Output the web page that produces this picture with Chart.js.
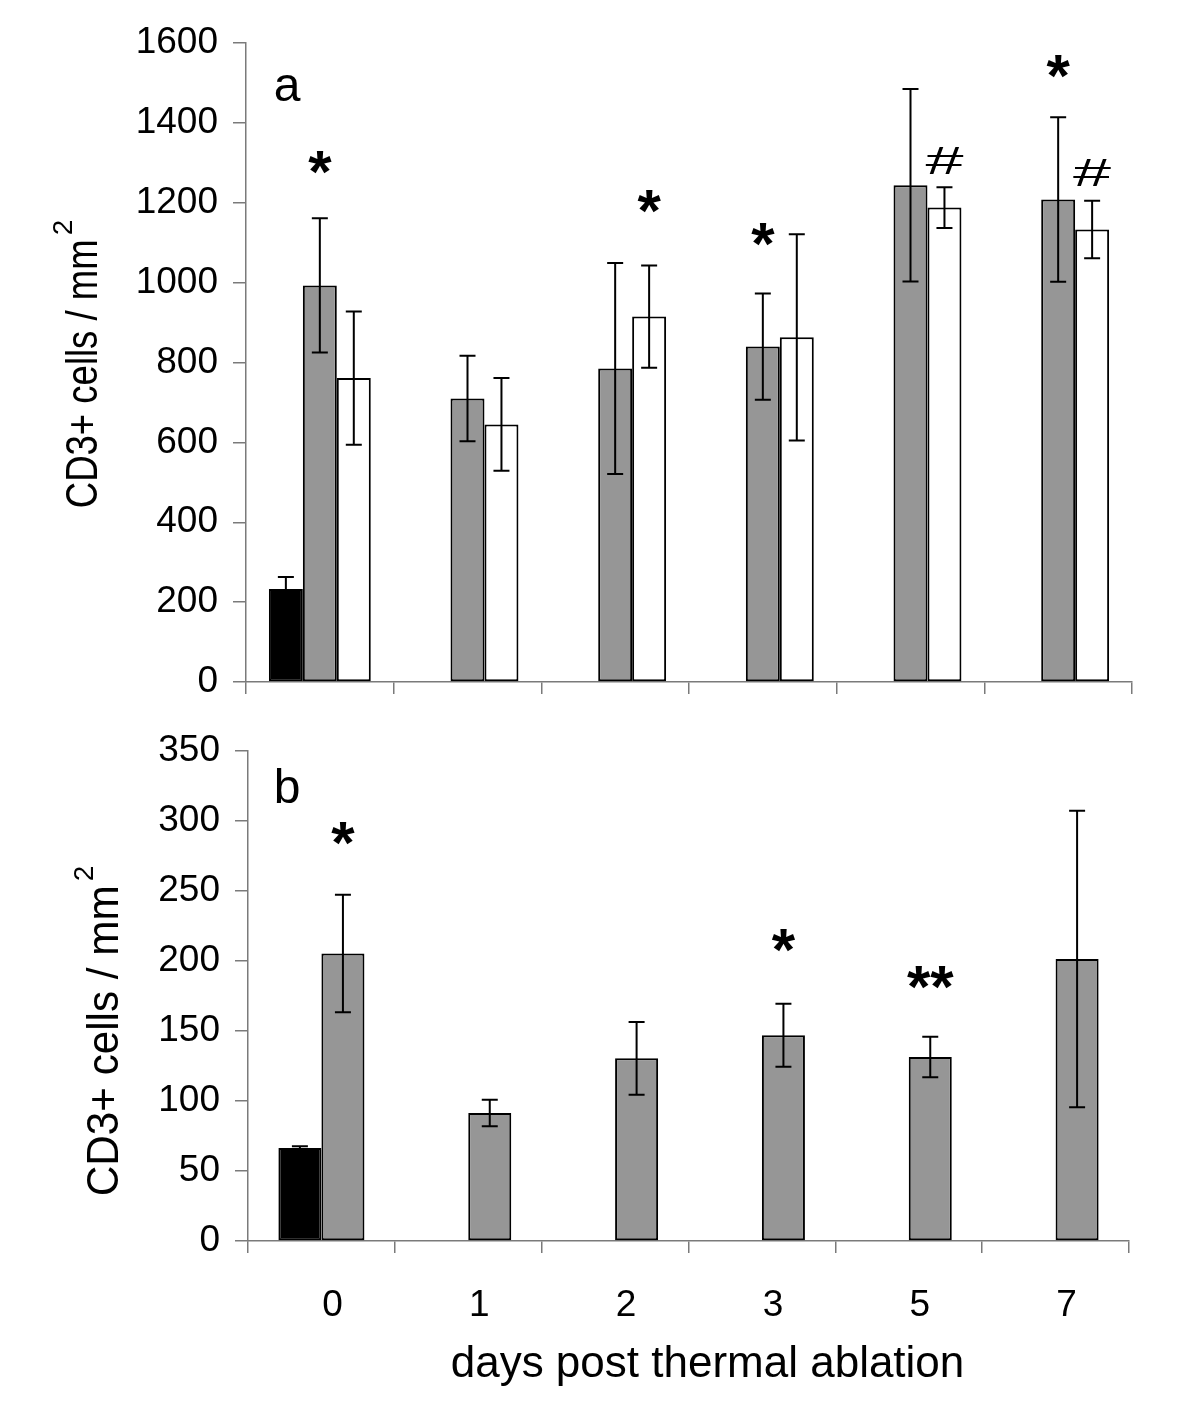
<!DOCTYPE html>
<html lang="en">
<head>
  <meta charset="UTF-8">
  <title>CD3+ cells after thermal ablation</title>
  <script src="https://cdn.jsdelivr.net/npm/chart.js"></script>
  <style>
    body { margin: 0; background: #fff; }
    #wrap { position: relative; width: 1200px; height: 1422px; }
    canvas { position: absolute; left: 0; }
  </style>
</head>
<body>
  <div id="wrap">
    <canvas id="chartA" width="1200" height="720" style="top:0"></canvas>
    <canvas id="chartB" width="1200" height="708" style="top:714px"></canvas>
  </div>

  <script>
    const FONT = "'Liberation Sans', Arial, sans-serif";

    // days post ablation
    const days = ['0', '1', '2', '3', '5', '7'];

    // panel a
    const aControl = [233, null, null, null, null, null];
    const aControlErr = [30, null, null, null, null, null];
    const aGray = [993, 710, 785, 840, 1244, 1208];
    const aGrayErr = [168, 107, 264, 133, 241, 206];
    const aWhite = [761, 645, 915, 863, 1188, 1133];
    const aWhiteErr = [167, 116, 128, 258, 51, 72];
    const aTicks = [0, 200, 400, 600, 800, 1000, 1200, 1400, 1600];

    // significance marks for panel a
    const aMarkText = ['*', '*', '*', '#', '*', '#'];
    const aMarkDay = [0, 2, 3, 4, 5, 5];
    const aMarkSet = [1, 2, 1, 2, 1, 2];
    const aMarkValue = [1300, 1203, 1120, 1305, 1541, 1276];

    // panel b
    const bControl = [66.5, null, null, null, null, null];
    const bControlErr = [1.2, null, null, null, null, null];
    const bGray = [205.5, 91.5, 130.5, 147, 131.5, 201.5];
    const bGrayErr = [42, 9.5, 26, 22.5, 14.5, 106];
    const bTicks = [0, 50, 100, 150, 200, 250, 300, 350];

    const bMarkText = ['*', '*', '**'];
    const bMarkDay = [0, 3, 4];
    const bMarkSet = [1, 1, 1];
    const bMarkValue = [291, 215, 188];

    const axisGray = '#7a7a7a';

    // error bars, significance marks and titles, drawn on top of the bars
    const extras = {
      id: 'extras',
      afterDatasetsDraw(chart, args, o) {
        const ctx = chart.ctx;
        const y = chart.scales.y;
        const a = chart.chartArea;
        ctx.save();
        ctx.strokeStyle = '#000';
        ctx.lineWidth = 2;
        chart.data.datasets.forEach((ds, di) => {
          const meta = chart.getDatasetMeta(di);
          ds.errors.forEach((e, i) => {
            const v = ds.data[i];
            if (v == null || e == null) return;
            const x = meta.data[i].x;
            const t = y.getPixelForValue(v + e);
            const b = y.getPixelForValue(v - e);
            ctx.beginPath();
            ctx.moveTo(x, t); ctx.lineTo(x, b);
            ctx.moveTo(x - 8, t); ctx.lineTo(x + 8, t);
            ctx.moveTo(x - 8, b); ctx.lineTo(x + 8, b);
            ctx.stroke();
          });
        });

        ctx.fillStyle = '#000';
        o.marks.text.forEach((txt, k) => {
          const meta = chart.getDatasetMeta(o.marks.set[k]);
          const x = meta.data[o.marks.day[k]].x;
          const cy = y.getPixelForValue(o.marks.value[k]);
          ctx.save();
          ctx.translate(x, cy);
          if (txt === '#') {
            ctx.font = '38px ' + FONT;
            ctx.scale(1.8, 1);
          } else {
            ctx.font = 'bold 60px ' + FONT;
          }
          const m = ctx.measureText(txt);
          ctx.textAlign = 'center';
          ctx.textBaseline = 'alphabetic';
          ctx.fillText(txt, 0, (m.actualBoundingBoxAscent - m.actualBoundingBoxDescent) / 2);
          ctx.restore();
        });

        // panel letter
        ctx.font = '48px ' + FONT;
        ctx.textAlign = 'center';
        ctx.textBaseline = 'middle';
        ctx.fillText(o.letter, a.left + o.letterDx, a.top + o.letterDy);

        // x title
        if (o.xTitle) {
          ctx.font = '44px ' + FONT;
          ctx.fillText(o.xTitle, (a.left + a.right) / 2 + o.xTitleDx, o.xTitleY);
        }

        // y title with superscript
        ctx.save();
        ctx.translate(o.titleX, o.titleY);
        ctx.rotate(-Math.PI / 2);
        ctx.font = '44px ' + FONT;
        const main = 'CD3+ cells / mm';
        const w = ctx.measureText(main).width * o.squeeze;
        ctx.font = '28px ' + FONT;
        const ws = ctx.measureText('2').width;
        const start = -(w + 4 + ws) / 2;
        ctx.textAlign = 'left';
        ctx.textBaseline = 'alphabetic';
        ctx.fillText('2', start + w + 4, -o.supRise);
        ctx.translate(start, 0);
        ctx.scale(o.squeeze, 1);
        ctx.font = '44px ' + FONT;
        ctx.fillText(main, 0, 0);
        ctx.restore();
        ctx.restore();
      }
    };

    function makeChart(id, datasets, ticks, maxY, pad, xHeight, showX, extraOpts) {
      return new Chart(document.getElementById(id), {
        type: 'bar',
        data: { labels: days, datasets: datasets },
        plugins: [extras],
        options: {
          responsive: false,
          animation: false,
          layout: { padding: pad },
          plugins: {
            legend: { display: false },
            tooltip: { enabled: false },
            extras: extraOpts
          },
          scales: {
            x: {
              grid: { offset: true, drawOnChartArea: false, drawTicks: true, tickLength: 12, color: axisGray, lineWidth: 1.5 },
              border: { color: axisGray, width: 1.5 },
              ticks: { display: showX, color: '#000', padding: 31, labelOffset: 11, font: { size: 37, family: FONT } },
              afterFit: s => { s.height = xHeight; }
            },
            y: {
              min: 0,
              max: maxY,
              afterBuildTicks: s => { s.ticks = ticks.map(v => ({ value: v })); },
              grid: { drawOnChartArea: false, drawTicks: true, tickLength: 13, color: axisGray, lineWidth: 1.5 },
              border: { color: axisGray, width: 1.5 },
              ticks: { color: '#000', padding: 15, font: { size: 37, family: FONT }, callback: v => String(v) },
              afterFit: s => { s.width = pad.yWidth; }
            }
          }
        }
      });
    }

    function barSet(values, errors, fill, cat) {
      return {
        data: values,
        errors: errors,
        backgroundColor: fill,
        borderColor: '#000',
        borderWidth: 2,
        borderSkipped: false,
        categoryPercentage: cat,
        barPercentage: 1
      };
    }

    makeChart('chartA', [
      barSet(aControl, aControlErr, '#000000', 0.69),
      barSet(aGray, aGrayErr, '#969696', 0.69),
      barSet(aWhite, aWhiteErr, '#ffffff', 0.69)
    ], aTicks, 1600, { left: 0, right: 68, top: 43, bottom: 0, yWidth: 246 }, 38, false, {
      marks: { text: aMarkText, day: aMarkDay, set: aMarkSet, value: aMarkValue },
      letter: 'a', letterDx: 41, letterDy: 45,
      titleX: 97, titleY: 364, squeeze: 0.83, supRise: 25
    });

    makeChart('chartB', [
      barSet(bControl, bControlErr, '#000000', 0.586),
      barSet(bGray, bGrayErr, '#969696', 0.586)
    ], bTicks, 350, { left: 0, right: 71, top: 25, bottom: 0, yWidth: 248 }, 181, true, {
      marks: { text: bMarkText, day: bMarkDay, set: bMarkSet, value: bMarkValue },
      letter: 'b', letterDx: 39, letterDy: 39,
      titleX: 118, titleY: 317, squeeze: 0.96, supRise: 25,
      xTitle: 'days post thermal ablation', xTitleDx: 19, xTitleY: 651
    });
  </script>
</body>
</html>
